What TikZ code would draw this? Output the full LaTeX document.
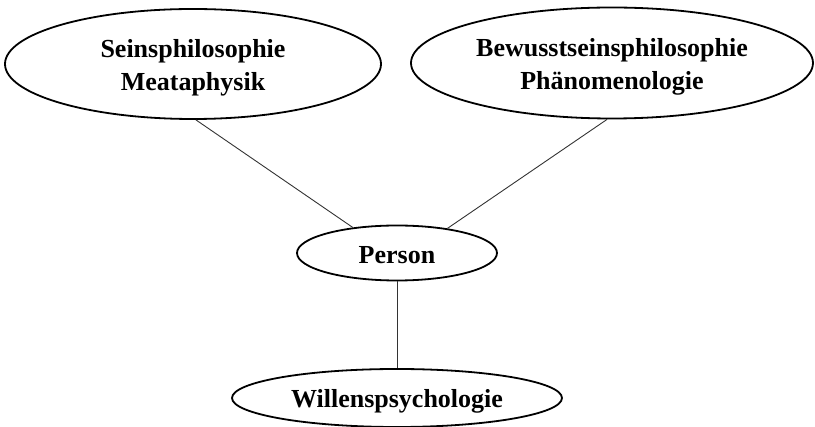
\documentclass[tikz,border=0pt]{standalone}
\usepackage{fontspec}
\setmainfont{Liberation Serif}
\usetikzlibrary{shapes.geometric}
\begin{document}
\begin{tikzpicture}[x=1pt,y=-1pt,
  topic/.style={draw, line width=1.8pt, ellipse, inner sep=0pt},
  caption/.style={align=center, inner sep=0pt,
    font=\bfseries\fontsize{26}{33}\selectfont},
  link/.style={draw, line width=0.9pt, black!80}]
  \useasboundingbox (0,0) rectangle (815,427);
  \clip (0,0) rectangle (815,427);

  % ellipses
  \node[topic, minimum width=376pt, minimum height=110pt] (sein) at (193,64) {};
  \node[topic, minimum width=402pt, minimum height=111pt] (bew) at (612,63) {};
  \node[topic, minimum width=200pt, minimum height=55pt] (person) at (397,253) {};
  \node[topic, minimum width=330pt, minimum height=58pt] (wille) at (397,398) {};

  % their texts, set a little below each centre
  \node[caption] (sein-t) at ([yshift=-4pt]sein.center)
    {Seinsphilosophie\\Meataphysik};
  \node[caption] (bew-t) at ([yshift=-4pt]bew.center)
    {Bewusstseinsphilosophie\\Phänomenologie};
  \node[caption] (person-t) at ([yshift=-2pt]person.center) {Person};
  \node[caption] (wille-t) at ([yshift=-3pt]wille.center) {Willenspsychologie};

  % connectors
  \draw[link] (sein.-87) -- (person.150);
  \draw[link] (bew.265) -- (person.26);
  \draw[link] (person.south) -- (wille.north);
\end{tikzpicture}
\end{document}
